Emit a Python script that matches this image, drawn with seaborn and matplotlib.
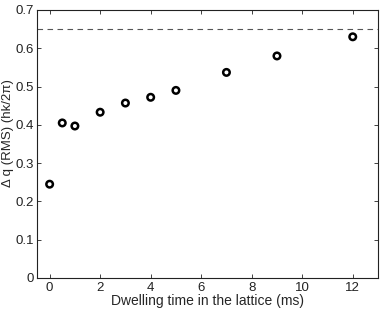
import matplotlib
matplotlib.use("Agg")
import matplotlib.pyplot as plt
import seaborn as sns
import pandas as pd

times = [0, 0.5, 1, 2, 3, 4, 5, 7, 9, 12]
dq_rms = [0.245, 0.405, 0.397, 0.433, 0.457, 0.472, 0.490, 0.537, 0.580, 0.630]
limit_value = 0.65
xticks = [0, 2, 4, 6, 8, 10, 12]
yticks = [0, 0.1, 0.2, 0.3, 0.4, 0.5, 0.6, 0.7]

sns.set_theme(style="ticks")
plt.rcParams['font.family'] = ['Liberation Sans', 'DejaVu Sans']

df = pd.DataFrame({"t": times, "dq": dq_rms})
fig = plt.figure(figsize=(3.82, 3.10), dpi=100)
ax = fig.add_axes([37/382, 1-278/310, (378-37)/382, (278-10)/310])
sns.scatterplot(data=df, x="t", y="dq", ax=ax, marker="o", s=22,
                facecolor="none", edgecolor="black", linewidth=1.8, legend=False)
ax.axhline(limit_value, color="#555555", linestyle=(0, (5, 4)), linewidth=0.8)
ax.set_xlim(-0.5, 13)
ax.set_ylim(0, 0.7)
ax.set_xticks(xticks)
ax.set_xticklabels([str(v) for v in xticks])
ax.set_yticks(yticks)
ax.set_yticklabels(["0" if v == 0 else f"{v:.1f}" for v in yticks])
ax.tick_params(direction="in", length=3, width=0.6, labelsize=9.5, colors="#222222",
               top=True, right=True, pad=3)
ax.tick_params(axis="y", pad=2)
for s in ax.spines.values():
    s.set_linewidth(0.8)
    s.set_color("#222222")
ax.set_xlabel("Dwelling time in the lattice (ms)", fontsize=10, labelpad=0)
ax.set_ylabel("Δ q (RMS) (hk/2π)", fontsize=9.5)
ax.yaxis.set_label_coords(-0.068, 0.541)
fig.savefig("out.png", dpi=100)
